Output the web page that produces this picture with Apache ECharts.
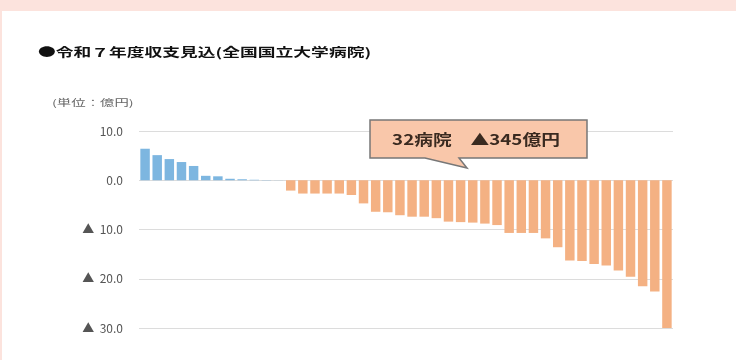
<!DOCTYPE html>
<html><head><meta charset="utf-8">
<script src="https://cdn.jsdelivr.net/npm/echarts@6/dist/echarts.min.js"></script>
<style>html,body{margin:0;padding:0;background:#fce3dd;}#c{width:736px;height:360px;}</style>
</head><body><div id="c"></div>
<script>
const titleText = '●令和７年度収支見込(全国国立大学病院)';
const unitText = '(単位：億円)';
const calloutText = '32病院　▲345億円';
const surplusValues = [6.4, 5.1, 4.3, 3.7, 2.9, 0.9, 0.8, 0.3, 0.2, 0.1, 0.05, 0.02];
const deficitValues = [-2.1, -2.7, -2.7, -2.7, -2.7, -3.0, -4.7, -6.4, -6.5, -7.1, -7.4, -7.4, -7.7, -8.4, -8.5, -8.6,
  -8.8, -9.1, -10.7, -10.7, -10.7, -11.8, -13.6, -16.3, -16.4, -17.0, -17.3, -18.3, -19.6, -21.5, -22.6, -30.0];
const yMin = -30, yMax = 10, yStep = 10;

const allValues = surplusValues.concat(deficitValues);
const categories = allValues.map((_, i) => String(i + 1));
const data = allValues.map(v => ({ value: v, itemStyle: { color: v >= 0 ? '#7db6e0' : '#f4b183' } }));

const chart = echarts.init(document.getElementById('c'));
chart.setOption({
  backgroundColor: '#fce3dd',
  animation: false,
  textStyle: { fontFamily: '"Noto Sans CJK JP", "Noto Sans", sans-serif' },
  graphic: [
    { type: 'rect', shape: { x: 2, y: 11, width: 734, height: 349 }, style: { fill: '#ffffff' }, z: -10 },
    { type: 'text', x: 38, y: 52, scaleX: 1.48, style: { text: titleText, fill: '#111', font: 'bold 12px "Noto Sans CJK JP"', verticalAlign: 'middle' } },
    { type: 'text', x: 52, y: 103, scaleX: 1.6, style: { text: unitText, fill: '#666', font: '9px "Noto Sans CJK JP"', verticalAlign: 'middle' } },
    { type: 'polygon', shape: { points: [[370,120],[587,120],[587,158],[459,158],[467,168],[425,158],[370,158]] },
      style: { fill: '#f9c7aa', stroke: '#777', lineWidth: 1.5 }, z: 10 },
    { type: 'text', x: 476, y: 139, scaleX: 1.25, style: { text: calloutText, fill: '#3a2a20', font: 'bold 15px "Noto Sans CJK JP"', align: 'center', verticalAlign: 'middle' }, z: 11 }
  ],
  grid: { left: 139, right: 63, top: 131, bottom: 32 },
  xAxis: {
    type: 'category', data: categories,
    axisLine: { show: false }, axisTick: { show: false }, axisLabel: { show: false }
  },
  yAxis: {
    type: 'value', min: yMin, max: yMax, interval: yStep,
    axisLine: { show: false }, axisTick: { show: false },
    splitLine: { lineStyle: { color: '#dcdcdc', width: 1 } },
    axisLabel: {
      color: '#555', fontSize: 12, margin: 16,
      formatter: v => v < 0 ? '▲  ' + Math.abs(v).toFixed(1) : v.toFixed(1)
    }
  },
  series: [{
    type: 'bar', data: data, barCategoryGap: '22%'
  }]
});
</script></body></html>
